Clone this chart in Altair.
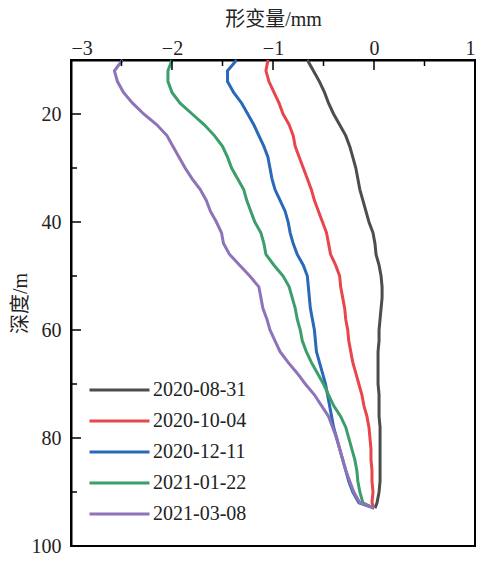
import altair as alt
import pandas as pd

dates = ["2020-08-31", "2020-10-04", "2020-12-11", "2021-01-22", "2021-03-08"]
colors = ["#4d4d4d", "#e8464c", "#2a68b8", "#3b9e6b", "#8f73b8"]

depth = [10, 12, 14, 16, 18, 20, 22, 24, 26, 28, 30, 32, 34, 36, 38, 40, 42, 44, 46, 48,
         50, 52, 54, 56, 58, 60, 62, 64, 66, 68, 70, 72, 74, 76, 78, 80, 82, 84, 86, 88,
         90, 92, 93]

s_0831 = [-0.66, -0.60, -0.54, -0.49, -0.45, -0.40, -0.34, -0.28, -0.24, -0.21, -0.18, -0.16,
          -0.14, -0.11, -0.08, -0.05, -0.01, 0.01, 0.02, 0.05, 0.07, 0.08, 0.08, 0.07, 0.06,
          0.05, 0.05, 0.04, 0.04, 0.04, 0.04, 0.05, 0.05, 0.05, 0.06, 0.06, 0.06, 0.06, 0.06,
          0.06, 0.05, 0.03, 0.01]
s_1004 = [-1.05, -1.07, -1.04, -0.99, -0.94, -0.90, -0.84, -0.80, -0.78, -0.74, -0.70, -0.66,
          -0.62, -0.59, -0.55, -0.51, -0.47, -0.45, -0.43, -0.38, -0.34, -0.33, -0.31, -0.29,
          -0.28, -0.26, -0.25, -0.23, -0.21, -0.18, -0.15, -0.12, -0.10, -0.07, -0.05, -0.04,
          -0.03, -0.03, -0.02, -0.02, -0.01, -0.02, 0.0]
s_1211 = [-1.36, -1.45, -1.45, -1.39, -1.31, -1.25, -1.19, -1.14, -1.09, -1.05, -1.03, -1.01,
          -0.98, -0.93, -0.88, -0.85, -0.83, -0.80, -0.76, -0.70, -0.66, -0.65, -0.64, -0.63,
          -0.61, -0.59, -0.58, -0.57, -0.54, -0.51, -0.48, -0.46, -0.44, -0.42, -0.40, -0.37,
          -0.34, -0.31, -0.28, -0.25, -0.21, -0.15, 0.0]
s_0122 = [-2.00, -2.04, -2.04, -2.00, -1.92, -1.80, -1.68, -1.58, -1.50, -1.45, -1.41, -1.35,
          -1.29, -1.26, -1.22, -1.18, -1.12, -1.09, -1.07, -0.99, -0.90, -0.84, -0.81, -0.78,
          -0.76, -0.73, -0.71, -0.67, -0.62, -0.56, -0.50, -0.45, -0.40, -0.33, -0.28, -0.25,
          -0.22, -0.19, -0.17, -0.16, -0.14, -0.11, 0.0]
s_0308 = [-2.49, -2.57, -2.54, -2.48, -2.39, -2.28, -2.15, -2.05, -1.99, -1.93, -1.87, -1.80,
          -1.72, -1.66, -1.62, -1.56, -1.51, -1.49, -1.43, -1.33, -1.23, -1.14, -1.12, -1.10,
          -1.06, -1.03, -0.98, -0.93, -0.85, -0.76, -0.68, -0.59, -0.52, -0.45, -0.41, -0.37,
          -0.34, -0.31, -0.28, -0.24, -0.20, -0.14, 0.0]

x_labels = [-3, -2, -1, 0, 1]
y_labels = [20, 40, 60, 80, 100]
x_major = [-2, -1, 0]
x_minor = [-2.5, -1.5, -0.5, 0.5]
y_major = [20, 40, 60, 80]
y_minor = [30, 50, 70, 90]

series = [s_0831, s_1004, s_1211, s_0122, s_0308]
rows = []
for d, vals in zip(dates, series):
    for dep, v in zip(depth, vals):
        rows.append({"date": d, "depth": dep, "val": v})
df = pd.DataFrame(rows)

FONT = "Liberation Serif, Noto Sans CJK SC"
xscale = alt.Scale(domain=[-3, 1], nice=False, zero=False)
yscale = alt.Scale(domain=[10, 100], reverse=True, nice=False, zero=False)

lines = alt.Chart(df).mark_line(strokeWidth=3).encode(
    x=alt.X("val:Q", scale=xscale,
            axis=alt.Axis(orient="top", title="形变量/mm", values=x_labels, format="d",
                          ticks=False, grid=False, labelPadding=2, titlePadding=9)),
    y=alt.Y("depth:Q", scale=yscale,
            axis=alt.Axis(title="深度/m", values=y_labels, format="d", ticks=False,
                          grid=False, labelPadding=10, titlePadding=1)),
    color=alt.Color("date:N", scale=alt.Scale(domain=dates, range=colors),
                    legend=alt.Legend(title=None, orient="none", legendX=17, legendY=320,
                                      symbolType="stroke", symbolSize=3600, clipHeight=20,
                                      symbolStrokeWidth=3, labelFontSize=20, padding=0,
                                      labelFont=FONT, labelColor="#222", rowPadding=11,
                                      labelOffset=2)),
    order="depth:Q",
)

xmaj = alt.Chart(pd.DataFrame({"val": x_major})).mark_rule(color="black", strokeWidth=1.5).encode(
    x=alt.X("val:Q", scale=xscale), y=alt.value(0), y2=alt.value(10))
xmin = alt.Chart(pd.DataFrame({"val": x_minor})).mark_rule(color="black", strokeWidth=1.5).encode(
    x=alt.X("val:Q", scale=xscale), y=alt.value(0), y2=alt.value(6))
ymaj = alt.Chart(pd.DataFrame({"depth": y_major})).mark_rule(color="black", strokeWidth=1.5).encode(
    y=alt.Y("depth:Q", scale=yscale), x=alt.value(0), x2=alt.value(10))
ymin = alt.Chart(pd.DataFrame({"depth": y_minor})).mark_rule(color="black", strokeWidth=1.5).encode(
    y=alt.Y("depth:Q", scale=yscale), x=alt.value(0), x2=alt.value(6))

chart = alt.layer(lines, xmaj, xmin, ymaj, ymin).properties(
    width=404, height=486,
    autosize=alt.AutoSizeParams(type="none"),
    padding={"left": 63, "top": 52, "right": 5, "bottom": 10},
).configure_view(stroke="black", strokeWidth=2).configure_axis(
    labelFont=FONT, titleFont=FONT, labelFontSize=20, titleFontSize=20,
    labelColor="#222", titleColor="#222", titleFontWeight="normal",
    domainColor="black", domainWidth=2,
)

chart.save("out.html", embed_options={"renderer": "svg", "actions": False})
